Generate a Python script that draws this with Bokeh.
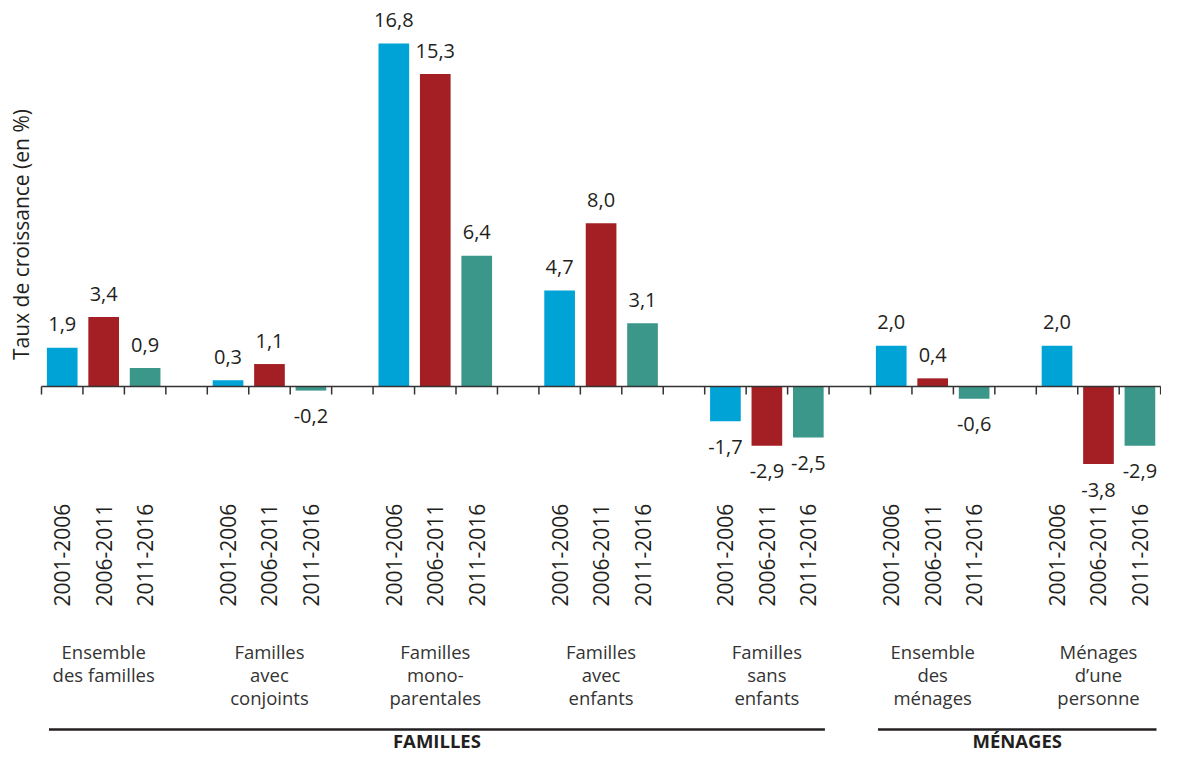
import math
from bokeh.plotting import figure
from bokeh.models import Range1d, ColumnDataSource
from bokeh.core.properties import value
from bokeh.embed import file_html
from bokeh.resources import INLINE

# ---- data ----
groups = ["Ensemble\ndes familles", "Familles\navec\nconjoints", "Familles\nmono-\nparentales",
          "Familles\navec\nenfants", "Familles\nsans\nenfants", "Ensemble\ndes\nménages",
          "Ménages\nd’une\npersonne"]
periods = ["2001-2006", "2006-2011", "2011-2016"]
v_2001_2006 = [1.9, 0.3, 16.8, 4.7, -1.7, 2.0, 2.0]
v_2006_2011 = [3.4, 1.1, 15.3, 8.0, -2.9, 0.4, -3.8]
v_2011_2016 = [0.9, -0.2, 6.4, 3.1, -2.5, -0.6, -2.9]
sections = ["FAMILLES", "MÉNAGES"]
section_first = [0, 5]
section_last = [4, 6]
colors = ["#00A3D6", "#A31F24", "#3A978A"]

series = [v_2001_2006, v_2006_2011, v_2011_2016]

# ---- layout helpers ----
W, H = 1161, 754
X0, SW = 41.0, 41.45         # px of slot 0, px per slot
Y0, PX = 386.0, 20.42        # px of zero, px per unit
BL = 7.5                     # renderer's alphabetic-baseline shift (px)
TXT = "#231F20"
FONT = value("Open Sans")

def vy(y_px):
    return (Y0 - y_px) / PX

def vb(y_px):
    # data y for a text whose baseline should land on y_px
    return vy(y_px - BL)

def px(n):
    return n / PX

p = figure(width=W, height=H, output_backend="svg", toolbar_location=None,
           x_range=Range1d(-X0 / SW, (W - X0) / SW),
           y_range=Range1d((Y0 - H) / PX, Y0 / PX),
           x_axis_type=None, y_axis_type=None, min_border=0)
p.grid.visible = False
p.outline_line_color = None
p.background_fill_color = "white"
p.border_fill_color = "white"

nslots = 4 * len(groups) - 1

for j, vals in enumerate(series):
    xs = [4 * g + j + 0.5 for g in range(len(groups))]
    src = ColumnDataSource(dict(x=xs, top=vals))
    p.vbar(x="x", top="top", bottom=0, width=0.74, source=src,
           fill_color=colors[j], line_color=None)
    # value labels
    lab = [f"{v:.1f}".replace(".", ",") for v in vals]
    ly = [v + px(16 + BL) if v >= 0 else v - px(33 - BL) for v in vals]
    p.text(x=xs, y=ly, text=lab, text_font=FONT, text_font_size="20px",
           text_align="center", text_baseline="alphabetic", text_color=TXT)
    # period labels (rotated)
    p.text(x=xs, y=[vy(606)] * len(xs), text=[periods[j]] * len(xs), angle=math.pi / 2,
           text_font=FONT, text_font_size="21px", text_align="left",
           text_baseline="middle", text_color=TXT)

# zero line + ticks
bounds = list(range(0, nslots + 1))
p.segment(x0=bounds, y0=[0] * len(bounds), x1=bounds, y1=[-px(8)] * len(bounds),
          line_color="#333333", line_width=1.5)
p.segment(x0=[0], y0=[0], x1=[nslots], y1=[0], line_color="#333333", line_width=1.6)

# group labels
gx, gy, gt = [], [], []
for g, name in enumerate(groups):
    for k, line in enumerate(name.split("\n")):
        gx.append(4 * g + 1.5)
        gy.append(vb(658 + 23 * k))
        gt.append(line)
p.text(x=gx, y=gy, text=gt, text_font=FONT, text_font_size="18.5px",
       text_align="center", text_baseline="alphabetic", text_color="#333333")

# section brackets
sx0 = [4 * a + 0.18 for a in section_first]
sx1 = [4 * b + 2.9 for b in section_last]
p.segment(x0=sx0, y0=[vy(729)] * 2, x1=sx1, y1=[vy(729)] * 2,
          line_color="#231F20", line_width=2.6)
p.text(x=[(a + b) / 2 for a, b in zip(sx0, sx1)], y=[vb(747)] * 2, text=sections,
       text_font=FONT, text_font_size="18.5px", text_font_style="bold",
       text_align="center", text_baseline="alphabetic", text_color=TXT)

# y axis title
p.text(x=[(20 - X0) / SW], y=[vy(234)], text=["Taux de croissance (en %)"],
       angle=math.pi / 2, text_font=FONT, text_font_size="21px",
       text_align="center", text_baseline="middle", text_color=TXT)

open("out.html", "w").write(file_html(p, INLINE))
